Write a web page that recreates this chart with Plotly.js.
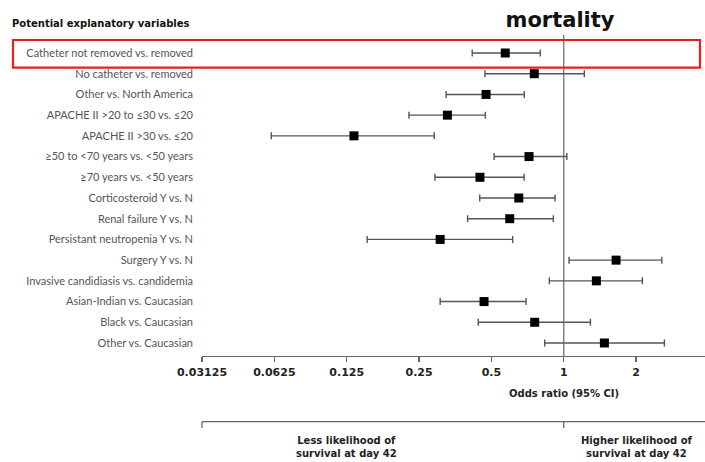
<!DOCTYPE html>
<html>
<head>
<meta charset="utf-8">
<script src="https://cdn.plot.ly/plotly-3.0.1.min.js"></script>
<style>html,body{margin:0;padding:0;background:#fff;}#chart{width:705px;height:462px;}</style>
</head>
<body>
<div id="chart"></div>
<script>
// ---- data ----
var variables = [
  "Catheter not removed vs. removed",
  "No catheter vs. removed",
  "Other vs. North America",
  "APACHE II &gt;20 to ≤30 vs. ≤20",
  "APACHE II &gt;30 vs. ≤20",
  "≥50 to &lt;70 years vs. &lt;50 years",
  "≥70 years vs. &lt;50 years",
  "Corticosteroid Y vs. N",
  "Renal failure Y vs. N",
  "Persistant neutropenia Y vs. N",
  "Surgery Y vs. N",
  "Invasive candidiasis vs. candidemia",
  "Asian-Indian vs. Caucasian",
  "Black vs. Caucasian",
  "Other vs. Caucasian"
];
var oddsRatio = [0.571, 0.754, 0.475, 0.328, 0.134, 0.717, 0.448, 0.650, 0.596, 0.306, 1.651, 1.367, 0.466, 0.757, 1.476];
var ciLower   = [0.416, 0.470, 0.324, 0.227, 0.0607, 0.513, 0.291, 0.447, 0.398, 0.152, 1.052, 0.871, 0.306, 0.441, 0.833];
var ciUpper   = [0.799, 1.218, 0.685, 0.472, 0.289, 1.03, 0.684, 0.92, 0.905, 0.613, 2.56, 2.124, 0.697, 1.291, 2.623];
var xTickVals = [0.03125, 0.0625, 0.125, 0.25, 0.5, 1, 2];
var xTickText = ["0.03125", "0.0625", "0.125", "0.25", "0.5", "1", "2"];
var chartTitle = "mortality";
var xTitle = "Odds ratio (95% CI)";
var yHeader = "Potential explanatory variables";
var lessLabel = "Less likelihood of<br>survival at day 42";
var higherLabel = "Higher likelihood of<br>survival at day 42";
var highlightIndex = 0;

// ---- build ----
var idx = variables.map(function(_, i){ return i; });
var errPlus = oddsRatio.map(function(v, i){ return ciUpper[i] - v; });
var errMinus = oddsRatio.map(function(v, i){ return v - ciLower[i]; });

var xr = [Math.log10(0.03125), Math.log10(3.87)];
var yr = [14.628, -0.869];
function xPaper(v){ return (Math.log10(v) - xr[0]) / (xr[1] - xr[0]); }
function yPaper(i){ return (i - yr[0]) / (yr[1] - yr[0]); }

var bold = "DejaVu Sans";
var trace = {
  type: "scatter",
  mode: "markers",
  x: oddsRatio,
  y: idx,
  marker: {symbol: "square", size: 9, color: "#000"},
  error_x: {type: "data", symmetric: false, array: errPlus, arrayminus: errMinus,
            color: "#555", thickness: 1.4, width: 3.5},
  hoverinfo: "skip",
  cliponaxis: false
};

var bracketY = -0.2047, bracketTick = -0.2243;
var shapes = [
  {type: "line", xref: "paper", yref: "paper", x0: xPaper(1), x1: xPaper(1), y0: 0, y1: 1,
   line: {color: "#666", width: 1.2}},
  {type: "rect", xref: "paper", yref: "paper", x0: -0.3757, x1: 0.990,
   y0: yPaper(highlightIndex + 0.71), y1: yPaper(highlightIndex - 0.628),
   line: {color: "#e3231b", width: 2.2}},
  {type: "line", xref: "paper", yref: "paper", x0: 0, x1: 1, y0: bracketY, y1: bracketY,
   line: {color: "#666", width: 1.3}},
  {type: "line", xref: "paper", yref: "paper", x0: 0, x1: 0, y0: bracketY, y1: bracketTick,
   line: {color: "#666", width: 1.3}},
  {type: "line", xref: "paper", yref: "paper", x0: xPaper(1), x1: xPaper(1), y0: bracketY, y1: bracketTick,
   line: {color: "#666", width: 1.3}}
];

var annotations = [
  {text: xTitle, xref: "x", yref: "paper", x: 0, y: -0.1153, showarrow: false,
   xanchor: "center", yanchor: "middle", font: {family: bold, size: 10, color: "#222", weight: "bold"}},
  {text: "<b>" + yHeader + "</b>", xref: "paper", yref: "paper", x: -0.3817, y: 1.037, showarrow: false,
   xanchor: "left", yanchor: "middle", font: {family: bold, size: 10, color: "#111"}},
  {text: "<b>" + lessLabel + "</b>", xref: "paper", yref: "paper", x: 0.2877, y: -0.285, showarrow: false,
   xanchor: "center", yanchor: "middle", font: {family: bold, size: 10, color: "#222"}},
  {text: "<b>" + higherLabel + "</b>", xref: "paper", yref: "paper", x: 0.864, y: -0.285, showarrow: false,
   xanchor: "center", yanchor: "middle", font: {family: bold, size: 10, color: "#222"}}
];
annotations[0].text = "<b>" + xTitle + "</b>";

var layout = {
  width: 705, height: 462,
  margin: {l: 202, r: 0, t: 35, b: 106, pad: 0},
  paper_bgcolor: "#fff", plot_bgcolor: "#fff",
  showlegend: false,
  title: {text: "<b>" + chartTitle + "</b>", x: 560/705, xref: "container", xanchor: "center",
          y: 1 - 20/462, yref: "container", yanchor: "middle",
          font: {family: bold, size: 21, color: "#111"}},
  xaxis: {type: "log", range: xr, tickvals: xTickVals, ticktext: xTickText.map(function(t){return "<b>"+t+"</b>";}),
          ticks: "outside", ticklen: 5, tickwidth: 1.3, tickcolor: "#666",
          showline: true, linecolor: "#666", linewidth: 1.3, showgrid: false, zeroline: false,
          tickfont: {family: bold, size: 11, color: "#222"}, automargin: false, fixedrange: true},
  yaxis: {range: yr, tickvals: idx, ticktext: variables, ticks: "", showline: false,
          showgrid: false, zeroline: false, ticklabelstandoff: 8,
          tickfont: {family: "Lato", size: 11, color: "#555"}, automargin: false, fixedrange: true},
  shapes: shapes,
  annotations: annotations
};

Plotly.newPlot("chart", [trace], layout, {displayModeBar: false, staticPlot: true});
</script>
</body>
</html>
